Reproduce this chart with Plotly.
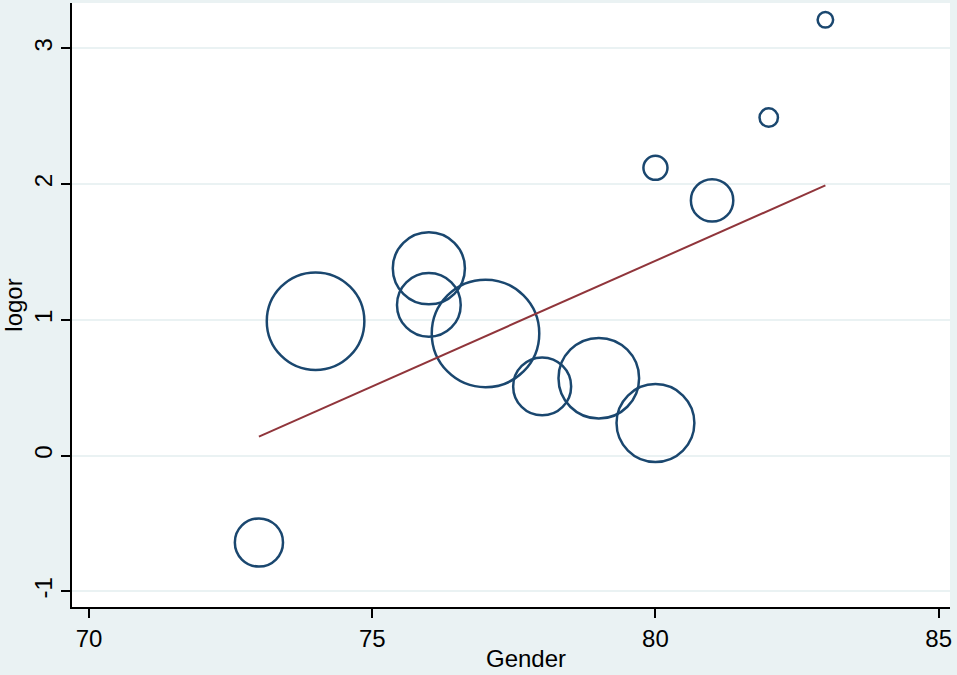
import plotly.graph_objects as go

# study-level values: x = Gender, y = log odds ratio, weight -> bubble area
gender = [73, 74, 76, 76, 77, 78, 79, 80, 80, 81, 82, 83]
logor = [-0.64, 0.99, 1.38, 1.11, 0.90, 0.51, 0.57, 0.24, 2.12, 1.88, 2.49, 3.21]
weight = [11.6, 47.6, 26.0, 20.3, 57.8, 16.8, 32.5, 30.3, 2.9, 9.0, 1.7, 1.2]

# fitted values of the meta-regression line
fit_x = [73, 83]
fit_y = [0.14, 1.99]

x_ticks = [70, 75, 80, 85]
y_ticks = [-1, 0, 1, 2, 3]
y_ticklabels = ["-1", "0", "1", "2", "3"]

BG = "#EAF2F3"
NAVY = "#1A476F"
MAROON = "#90353B"
FONT = "Liberation Sans, Arial, sans-serif"

fig = go.Figure()

fig.add_trace(
    go.Scatter(
        x=gender,
        y=logor,
        mode="markers",
        marker=dict(
            size=weight,
            sizemode="area",
            sizeref=0.01,
            opacity=1,
            color="rgba(0,0,0,0)",
            line=dict(color=NAVY, width=2.5),
        ),
        showlegend=False,
    )
)

fig.add_trace(
    go.Scatter(
        x=fit_x,
        y=fit_y,
        mode="lines",
        line=dict(color=MAROON, width=2),
        showlegend=False,
    )
)

# x title sits a bit right of the plot centre, as in the Stata export
fig.add_annotation(
    text="Gender",
    xref="paper",
    yref="paper",
    x=0.517,
    y=-0.085,
    xanchor="center",
    yanchor="middle",
    showarrow=False,
    font=dict(size=24),
)

fig.update_layout(
    width=957,
    height=675,
    paper_bgcolor=BG,
    plot_bgcolor="white",
    margin=dict(l=72, r=7, t=3, b=68),
    font=dict(family=FONT, size=24, color="black"),
    xaxis=dict(
        range=[69.70, 85.2],
        tickvals=x_ticks,
        ticks="outside",
        ticklen=9,
        tickwidth=1.5,
        tickcolor="black",
        showgrid=False,
        zeroline=False,
        showline=True,
        linecolor="black",
        linewidth=1.5,
    ),
    yaxis=dict(
        range=[-1.115, 3.334],
        tickvals=y_ticks,
        ticktext=y_ticklabels,
        tickangle=-90,
        ticks="outside",
        ticklen=9,
        tickwidth=1.5,
        tickcolor="black",
        showgrid=True,
        gridcolor=BG,
        gridwidth=1.5,
        zeroline=False,
        showline=True,
        linecolor="black",
        linewidth=1.5,
        title=dict(text="logor", standoff=0, font=dict(size=24)),
    ),
)

fig.write_html(
    "out.html",
    config={"displayModeBar": False},
    post_script="document.body.style.margin='0';document.body.style.background='%s';" % BG,
)
